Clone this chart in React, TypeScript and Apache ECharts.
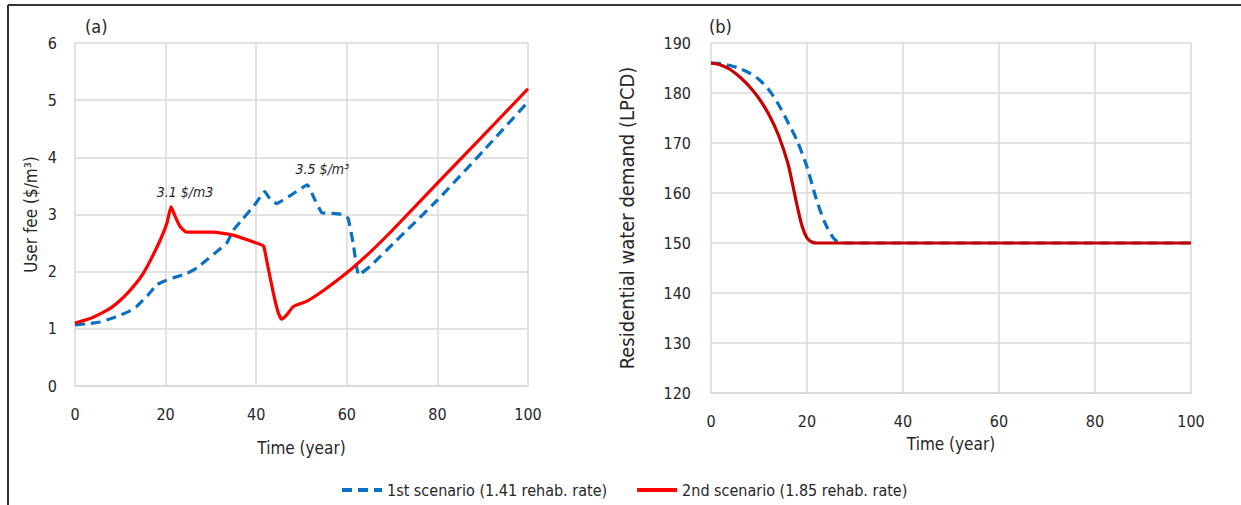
import React, { useEffect, useRef } from "react";
import * as echarts from "echarts";

const feeYears1 = [0, 3, 5.5, 8, 10, 12, 13.6, 16, 18, 20.2, 22, 24.7, 27, 29, 31, 33.5, 35, 37, 39.4, 41.9, 43, 44.5, 47.5, 51.3, 53, 54.5, 57, 59.2, 60.3, 61.4, 62.6, 65.1, 71, 80, 90, 100];
const fee1 = [1.07, 1.09, 1.12, 1.18, 1.24, 1.31, 1.39, 1.58, 1.77, 1.85, 1.9, 1.97, 2.07, 2.2, 2.33, 2.5, 2.73, 2.92, 3.14, 3.4, 3.28, 3.19, 3.33, 3.52, 3.25, 3.03, 3.02, 3.0, 2.93, 2.5, 1.94, 2.09, 2.55, 3.25, 4.1, 4.97];

const feeYears2 = [0, 3, 6, 8, 10, 12, 14.3, 16, 18.8, 20.3, 21.2, 22.2, 23.2, 24.6, 27, 30.5, 34.9, 39.4, 41.6, 42.3, 43.8, 44.8, 45.6, 46.8, 48.2, 51.1, 55, 60, 65, 70, 80, 90, 100];
const fee2 = [1.1, 1.17, 1.28, 1.37, 1.5, 1.66, 1.88, 2.1, 2.55, 2.85, 3.14, 2.95, 2.79, 2.69, 2.69, 2.69, 2.64, 2.52, 2.45, 2.2, 1.62, 1.3, 1.17, 1.25, 1.39, 1.48, 1.68, 1.98, 2.33, 2.72, 3.55, 4.37, 5.2];

const demandYears1 = [0, 2, 4, 6, 8, 10, 12, 14, 16, 18, 20, 22, 24, 26, 28, 40, 60, 80, 100];
const demand1 = [186, 185.9, 185.5, 184.9, 184, 182.7, 180.7, 177.8, 174.2, 170.3, 165.2, 158.6, 153.5, 150.5, 150, 150, 150, 150, 150];

const demandYears2 = [0, 2, 4, 6, 8, 10, 12, 14, 16, 17, 18, 19, 20, 21, 22, 40, 60, 80, 100];
const demand2 = [186, 185.6, 184.7, 183.2, 181.3, 178.9, 175.8, 171.7, 166, 161.7, 157.2, 153.3, 151, 150.2, 150, 150, 150, 150, 150];

const seriesNames = ["1st scenario (1.41 rehab. rate)", "2nd scenario (1.85 rehab. rate)"];
const peakLabels = ["3.1 $/m3", "3.5 $/m³"];
const peakYears = [21.2, 51.3];

const FONT = "'Liberation Sans Narrow', 'DejaVu Sans Condensed', 'Open Sans', sans-serif";
const BLUE = "#0a70c4";
const RED = "#ff0000";
const DARKRED = "#c80000";
const GRID = "#d9d9d9";
const TXT = "#262626";

const zip = (xs: number[], ys: number[]) => xs.map((x, i) => [x, ys[i]]);

export default function App() {
  const ref = useRef<HTMLDivElement>(null);
  useEffect(() => {
    document.body.style.margin = "0";
    const chart = echarts.init(ref.current!, null, { renderer: "svg" });
    const axisLabel = { color: TXT, fontFamily: FONT, fontSize: 16 };
    const nameStyle = { color: TXT, fontFamily: FONT, fontSize: 17 };
    const xAxisBase = {
      type: "value",
      min: 0,
      max: 100,
      interval: 20,
      axisLine: { show: true, lineStyle: { color: GRID, width: 1.5 } },
      axisTick: { show: false },
      splitLine: { show: true, lineStyle: { color: GRID, width: 1.5 } },
      nameLocation: "middle",
      name: "Time (year)",
      nameTextStyle: nameStyle,
    };
    const yAxisBase = {
      type: "value",
      axisLine: { show: false },
      axisTick: { show: false },
      splitLine: { show: true, lineStyle: { color: GRID, width: 1.5 } },
      nameLocation: "middle",
      nameRotate: 90,
    };
    const i1 = feeYears2.indexOf(peakYears[0]);
    const i2 = feeYears1.indexOf(peakYears[1]);
    const peakLabelStyle = { show: true, position: "top", fontStyle: "italic", fontSize: 14, color: TXT, fontFamily: FONT };
    chart.setOption({
      animation: false,
      textStyle: { fontFamily: FONT },
      grid: [
        { left: 75, top: 43, width: 453, height: 343 },
        { left: 711, top: 43, width: 480, height: 350 },
      ],
      xAxis: [
        { ...xAxisBase, gridIndex: 0, nameGap: 53, axisLabel: { ...axisLabel, margin: 20 } },
        { ...xAxisBase, gridIndex: 1, nameGap: 42, axisLabel: { ...axisLabel, margin: 20 } },
      ],
      yAxis: [
        { ...yAxisBase, gridIndex: 0, min: 0, max: 6, interval: 1, name: "User fee ($/m³)", nameGap: 36, nameTextStyle: nameStyle, axisLabel: { ...axisLabel, margin: 18 } },
        { ...yAxisBase, gridIndex: 1, min: 120, max: 190, interval: 10, name: "Residential water demand (LPCD)", nameGap: 74, nameTextStyle: { ...nameStyle, fontSize: 20 }, axisLabel: { ...axisLabel, margin: 20 } },
      ],
      legend: {
        data: seriesNames,
        left: 335,
        top: 477,
        itemWidth: 40,
        itemHeight: 14,
        itemGap: 28,
        itemStyle: { opacity: 0 },
        lineStyle: { width: 4 },
        textStyle: { color: TXT, fontFamily: FONT, fontSize: 16 },
      },
      graphic: [
        { type: "line", shape: { x1: 8, y1: 5, x2: 1241, y2: 5 }, style: { stroke: "#333", lineWidth: 2 } },
        { type: "line", shape: { x1: 8, y1: 5, x2: 8, y2: 505 }, style: { stroke: "#333", lineWidth: 2 } },
        { type: "text", left: 85, top: 17, style: { text: "(a)", font: `18px ${FONT}`, fill: TXT } },
        { type: "text", left: 709, top: 17, style: { text: "(b)", font: `18px ${FONT}`, fill: TXT } },
      ],
      series: [
        {
          name: seriesNames[0],
          type: "line",
          xAxisIndex: 0,
          yAxisIndex: 0,
          data: zip(feeYears1, fee1),
          symbol: "none",
          smooth: 0.1,
          lineStyle: { color: BLUE, width: 3.2, type: [10, 6] },
          itemStyle: { color: BLUE },
          markPoint: {
            symbol: "circle",
            symbolSize: 0,
            data: [{ coord: [feeYears1[i2], fee1[i2]] }],
            label: { ...peakLabelStyle, offset: [15, -4], formatter: peakLabels[1] },
          },
        },
        {
          name: seriesNames[1],
          type: "line",
          xAxisIndex: 0,
          yAxisIndex: 0,
          data: zip(feeYears2, fee2),
          symbol: "none",
          smooth: 0.15,
          lineStyle: { color: RED, width: 3.2 },
          itemStyle: { color: RED },
          markPoint: {
            symbol: "circle",
            symbolSize: 0,
            data: [{ coord: [feeYears2[i1], fee2[i1]] }],
            label: { ...peakLabelStyle, offset: [14, -2], formatter: peakLabels[0] },
          },
        },
        {
          name: seriesNames[0],
          type: "line",
          xAxisIndex: 1,
          yAxisIndex: 1,
          data: zip(demandYears1, demand1),
          symbol: "none",
          smooth: 0.3,
          lineStyle: { color: BLUE, width: 3.2, type: [10, 6] },
          itemStyle: { color: BLUE },
        },
        {
          name: seriesNames[1],
          type: "line",
          xAxisIndex: 1,
          yAxisIndex: 1,
          data: zip(demandYears2, demand2),
          symbol: "none",
          smooth: 0.3,
          lineStyle: { color: DARKRED, width: 3.2 },
          itemStyle: { color: DARKRED },
        },
      ],
    });
    return () => chart.dispose();
  }, []);
  return <div ref={ref} style={{ width: 1241, height: 505 }} />;
}
